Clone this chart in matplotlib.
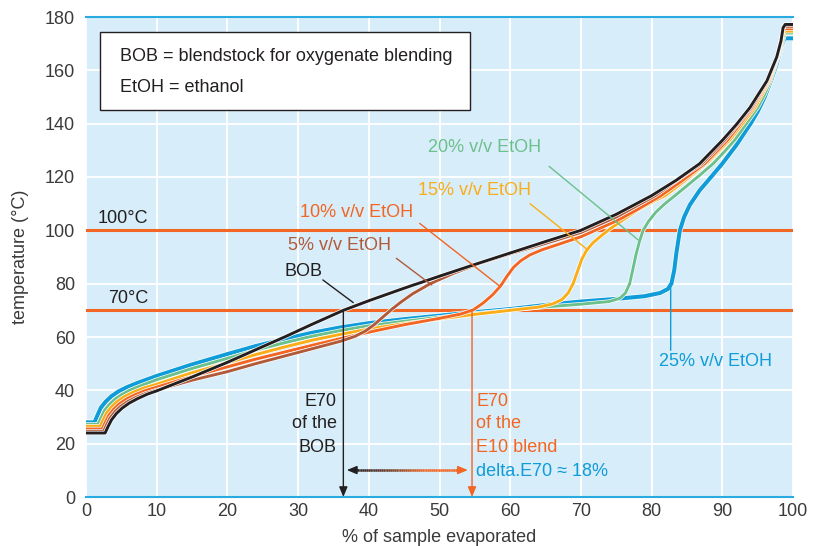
import numpy as np
import matplotlib
matplotlib.use("Agg")
import matplotlib.pyplot as plt
import matplotlib.patheffects as pe
from matplotlib.collections import LineCollection
from matplotlib.patches import Rectangle

plt.rcParams['font.family'] = ['Liberation Sans', 'DejaVu Sans']

# distillation curves: % evaporated vs temperature (°C)
bob_x = [0, 2.7, 3.1, 3.6, 4.3, 5.1, 6.1, 7.3, 8.7, 10, 15, 20, 25, 28, 32, 36.4, 40, 45, 50, 55, 60,
         65, 70, 75, 80, 83.5, 86.8, 90.1, 92, 93.9, 96.3, 97.7, 98.3, 98.6, 98.9, 100]
bob_y = [24, 24, 26.3, 28.9, 31.3, 33.3, 35.2, 36.9, 38.6, 39.8, 45, 50.5, 56.4, 59.9, 64.8, 70, 73.6, 78.3,
         82.8, 87.2, 91.5, 95.8, 100, 106, 113, 118.8, 125, 134, 139.7, 146, 156, 165, 171, 176, 177.2, 177.2]

e5_x = [0, 2.5, 2.9, 3.4, 4.1, 4.9, 5.9, 7.1, 8.6, 10, 15, 20, 24, 28, 32, 36, 38, 39.5, 40.7, 42, 43.3,
        44.6, 46.2, 48.7, 52, 55.7, 60, 65, 70, 75, 80.5, 84, 87.1, 90.4, 94.1, 96.4, 97.75, 98.7, 100]
e5_y = [24.7, 24.7, 27, 29.6, 32, 34, 35.8, 37.4, 39, 40.1, 43.8, 47, 50, 52.8, 55.6, 58.4, 60.2, 62.2, 64.5,
        67.5, 70.5, 73.2, 76.2, 80, 83.9, 87.6, 91.2, 95.1, 99.2, 105, 113, 119.5, 125, 134, 146, 156, 165,
        176.5, 176.5]

e10_x = [0, 2.3, 2.7, 3.2, 3.9, 4.7, 5.7, 6.9, 8.4, 10, 15, 20, 24, 28, 32, 36, 40, 45, 50, 53, 54.8,
         56.2, 57.5, 58.6, 59.6, 60.5, 61.5, 62.8, 64.5, 67, 70, 75, 78, 81.2, 84, 87.5, 90.8, 94.3, 96.5,
         97.8, 98.7, 100]
e10_y = [25.5, 25.5, 27.8, 30.5, 32.9, 34.9, 36.7, 38.3, 39.9, 41.2, 45.2, 48.8, 51.7, 54.3, 56.9, 59.4,
         61.8, 64.6, 67, 68.6, 70.2, 72.8, 75.8, 79, 83, 86.2, 88.6, 90.8, 92.7, 94.9, 97.6, 103.5, 107.8,
         112.8, 118, 125, 134, 146, 156, 165, 175.6, 175.6]

e15_x = [0, 2.0, 2.4, 2.9, 3.6, 4.4, 5.4, 6.6, 8.1, 10, 15, 20, 24, 28, 32, 36, 40, 45, 50, 55, 60, 64,
         66, 67.3, 68.2, 68.9, 69.5, 70.1, 70.8, 71.7, 72.8, 74.1, 76, 78, 80, 81.9, 84, 86, 88, 91.2,
         94.6, 96.65, 97.85, 98.8, 100]
e15_y = [26.5, 26.5, 28.8, 31.5, 33.8, 35.8, 37.6, 39.2, 40.8, 42.3, 46.6, 50.3, 53.4, 56.2, 58.8, 61.0,
         63.0, 65.0, 66.8, 68.5, 70.0, 71.2, 72.4, 74, 76.5, 80, 84.5, 89, 92.5, 95.3, 97.8, 100.5, 104,
         107.5, 110.5, 113, 117.2, 121.4, 125.7, 134.3, 146, 156, 165, 174.7, 174.7]

e20_x = [0, 1.7, 2.1, 2.6, 3.3, 4.1, 5.1, 6.3, 7.8, 10, 15, 20, 24, 28, 32, 36, 40, 45, 50, 55, 60, 65,
         70, 74, 75.5, 76.3, 76.9, 77.4, 77.8, 78.3, 78.8, 79.6, 80.6, 81.8, 83.3, 85, 87, 88.7, 90.3,
         91.8, 93.4, 95, 96, 96.8, 97.9, 98.9, 100]
e20_y = [27.2, 27.2, 29.6, 32.4, 34.7, 36.7, 38.5, 40.2, 41.8, 44.0, 48.2, 52.0, 55.1, 57.8, 60.3, 62.4,
         64.2, 65.9, 67.4, 68.8, 70.1, 71.3, 72.3, 73.3, 74.5, 76.5, 80, 86, 91, 96, 100, 103.5, 106.8,
         109.8, 113, 116.7, 121.1, 125, 129.5, 134, 140, 146, 151, 156, 165, 174, 174]

e25_x = [0, 1.2, 1.6, 2.1, 2.8, 3.6, 4.6, 5.8, 7.3, 10, 15, 20, 24, 28, 32, 36, 40, 45, 50, 55, 60,
         65.6, 70, 75, 79, 81.2, 82.3, 82.8, 83.2, 83.5, 84, 84.6, 85.4, 86.8, 88, 90, 92, 94, 95, 96,
         97, 97.7, 98.3, 98.8, 100]
e25_y = [28, 28, 30.5, 33.5, 35.8, 37.8, 39.6, 41.2, 42.8, 45.4, 49.7, 53.6, 56.6, 59.2, 61.6, 63.6, 65.2,
         66.7, 68.0, 69.3, 70.5, 72.2, 73.3, 74.3, 75.3, 76.5, 78, 80, 85, 91.4, 100, 105, 109.5, 115,
         118.7, 125, 132, 140, 144.5, 150, 157, 162.5, 168.7, 172, 172]

black = '#231f20'
brown = '#b05a3a'
orange = '#f26522'
yellow = '#fbad18'
green = '#6cc08c'
blue = '#0f9cd8'
bg = '#d7edf9'
fs = 13

fig = plt.figure(figsize=(8.24, 5.46), dpi=100)
ax = fig.add_axes([86/824, 49/546, 707/824, 480/546])
ax.set_facecolor(bg)

ax.set_xlim(0, 100)
ax.set_ylim(0, 180)
ax.set_xticks(range(0, 101, 10))
ax.set_yticks(range(0, 181, 20))
ax.grid(True, color='white', lw=1.3)
ax.set_axisbelow(True)
ax.tick_params(length=0, labelsize=fs, labelcolor='#3a3a3a')
ax.tick_params(axis='y', pad=8)
ax.tick_params(axis='x', pad=4)
for s in ['left', 'right']:
    ax.spines[s].set_visible(False)
for s in ['top', 'bottom']:
    ax.spines[s].set_color('#29abe2')
    ax.spines[s].set_linewidth(1.5)
ax.set_xlabel('% of sample evaporated', fontsize=fs, color='#3a3a3a', labelpad=7)
ax.set_ylabel('temperature (°C)', fontsize=fs, color='#3a3a3a', labelpad=11)

# reference temperatures
ax.axhline(70, color=orange, lw=2.2, zorder=2)
ax.axhline(100, color=orange, lw=2.2, zorder=2)
ax.text(8.8, 74.6, '70°C', ha='right', va='center', fontsize=fs, color=black)
ax.text(8.8, 104.5, '100°C', ha='right', va='center', fontsize=fs, color=black)

series = [(e25_x, e25_y, blue, 2.9),
          (e20_x, e20_y, green, 2.1),
          (e15_x, e15_y, yellow, 2.1),
          (e10_x, e10_y, orange, 2.1),
          (e5_x, e5_y, brown, 2.1),
          (bob_x, bob_y, black, 2.1)]
for k, (xs, ys, c, lw) in enumerate(series):
    ax.plot(xs, ys, color=c, lw=lw, zorder=3 + k, solid_joinstyle='round',
            path_effects=[pe.Stroke(linewidth=lw + 1.0, foreground='white'), pe.Normal()])

# note box
ax.add_patch(Rectangle((2, 145.1), 52.3, 29.1, facecolor='white', edgecolor=black, lw=1, zorder=10))
ax.text(4.8, 165, 'BOB = blendstock for oxygenate blending', va='center', fontsize=fs, color=black, zorder=11)
ax.text(4.8, 153.7, 'EtOH = ethanol', va='center', fontsize=fs, color=black, zorder=11)

# series labels with leader lines
labels = [('20% v/v EtOH', green, (56.4, 131), (65.5, 124), (78.1, 96.4)),
          ('15% v/v EtOH', yellow, (55.0, 115), (62.8, 110), (71.0, 92.6)),
          ('10% v/v EtOH', orange, (38.2, 106.5), (47.2, 102.6), (58.6, 78.9)),
          ('5% v/v EtOH', brown, (35.9, 94.5), (43.9, 89.5), (48.9, 79.5)),
          ('BOB', black, (30.7, 84.4), (33.5, 81.4), (37.8, 72.9)),
          ('25% v/v EtOH', blue, (89.1, 51), (82.7, 55), (82.7, 79.5))]
for txt, c, tpos, p0, p1 in labels:
    ax.text(tpos[0], tpos[1], txt, ha='center', va='center', fontsize=fs, color=c, zorder=12)
    ax.annotate('', xy=p1, xytext=p0,
                arrowprops=dict(arrowstyle='-', color=c, lw=1.0, shrinkA=0, shrinkB=0), zorder=12)

# E70 arrows
head = '-|>,head_length=0.6,head_width=0.25'
ax.annotate('', xy=(36.4, 0), xytext=(36.4, 70),
            arrowprops=dict(arrowstyle=head, color=black, lw=1.0, shrinkA=0, shrinkB=0), zorder=12)
ax.annotate('', xy=(54.6, 0), xytext=(54.6, 70),
            arrowprops=dict(arrowstyle=head, color=orange, lw=1.0, shrinkA=0, shrinkB=0), zorder=12)

for yy, t in zip([36, 27.4, 18.7], ['E70', 'of the', 'BOB']):
    ax.text(35.5, yy, t, ha='right', va='center', fontsize=fs, color=black)
for yy, t in zip([36, 27.4, 18.7], ['E70', 'of the', 'E10 blend']):
    ax.text(55.2, yy, t, ha='left', va='center', fontsize=fs, color=orange)
ax.text(55.2, 9.4, 'delta.E70 ≈ 18%', ha='left', va='center', fontsize=fs, color=blue)

# gradient double arrow between the two E70 values
gx = np.linspace(37.5, 53.0, 60)
segs = [[(gx[i], 10.1), (gx[i + 1], 10.1)] for i in range(len(gx) - 1)]
cmap = matplotlib.colors.LinearSegmentedColormap.from_list('g', [black, '#6b3a25', orange, orange])
lc = LineCollection(segs, colors=cmap(np.linspace(0, 1, len(segs))), lw=1.8, zorder=12)
ax.add_collection(lc)
ax.annotate('', xy=(36.9, 10.1), xytext=(38.5, 10.1),
            arrowprops=dict(arrowstyle=head, color=black, lw=1.0, shrinkA=0, shrinkB=0), zorder=13)
ax.annotate('', xy=(54.0, 10.1), xytext=(52.4, 10.1),
            arrowprops=dict(arrowstyle=head, color=orange, lw=1.0, shrinkA=0, shrinkB=0), zorder=13)

fig.savefig('out.png', dpi=100)
